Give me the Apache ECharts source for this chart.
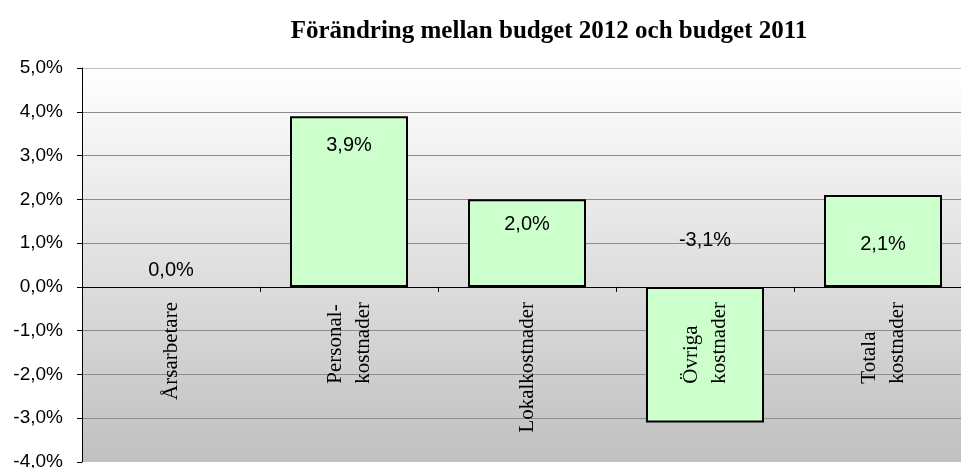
<!DOCTYPE html>
<html>
<head>
<meta charset="utf-8">
<script src="https://cdn.jsdelivr.net/npm/echarts@6/dist/echarts.min.js"></script>
<style>
  html, body { margin: 0; padding: 0; background: #fff; }
  #chart { width: 961px; height: 468px; }
</style>
</head>
<body>
<div id="chart"></div>
<script>
const categories = ["Årsarbetare", "Personal-\nkostnader", "Lokalkostnader", "Övriga\nkostnader", "Totala\nkostnader"];
const changes = [0.0, 3.9, 2.0, -3.1, 2.1];
// placering av dataetiketter (Excel-etiketterna är manuellt flyttade)
const labelPos = ["top", "insideTop", "insideTop", "top", "insideTop"];
const labelDist = [6, 19, 15, 36, 40];

const fmt = (v) => v.toFixed(1).replace(".", ",") + "%";

const chart = echarts.init(document.getElementById("chart"));

const option = {
  animation: false,
  title: {
    text: "Förändring mellan budget 2012 och budget 2011",
    left: 544,
    textAlign: "center",
    top: 14,
    textStyle: {
      fontFamily: "Liberation Serif",
      fontWeight: "bold",
      fontSize: 25,
      color: "#000",
    },
  },
  grid: {
    left: 82,
    right: -11,
    top: 68,
    bottom: 6,
    containLabel: false,
    outerBoundsMode: "none",
    show: true,
    borderWidth: 0,
    backgroundColor: new echarts.graphic.LinearGradient(0, 0, 0, 1, [
      { offset: 0, color: "#ffffff" },
      { offset: 1, color: "#c0c0c0" },
    ]),
  },
  xAxis: {
    type: "category",
    data: categories,
    z: 10,
    axisLine: { onZero: true, lineStyle: { color: "#000", width: 1 } },
    axisTick: { show: true, length: 5, lineStyle: { color: "#000" } },
    axisLabel: {
      rotate: 90,
      // etiketterna ritas från gridens underkant, flytta upp till nollinjen
      margin: -160,
      interval: 0,
      formatter: (v) => v.split("\n").map((s) => "{a|" + s + "}").join("\n"),
      rich: {
        a: {
          align: "left",
          fontFamily: "Liberation Serif",
          fontSize: 21,
          lineHeight: 28,
          color: "#000",
        },
      },
    },
  },
  yAxis: {
    type: "value",
    min: -4,
    max: 5,
    interval: 1,
    axisLine: { show: true, lineStyle: { color: "#000", width: 1 } },
    axisTick: { show: true, length: 5, lineStyle: { color: "#000" } },
    axisLabel: {
      margin: 19,
      formatter: fmt,
      fontFamily: "Liberation Sans",
      fontSize: 19,
      color: "#000",
    },
    splitLine: {
      show: true,
      lineStyle: {
        color: ["rgba(0,0,0,0)", "#8c8c8c", "#8c8c8c", "#8c8c8c", "#8c8c8c",
                "#8c8c8c", "#8c8c8c", "#8c8c8c", "#8c8c8c", "#c0c0c0"],
        width: 1,
      },
    },
  },
  series: [
    {
      type: "bar",
      barWidth: 118,
      itemStyle: {
        color: "#ccffcc",
        borderColor: "#000",
        borderWidth: 2,
      },
      label: {
        show: true,
        fontFamily: "Liberation Sans",
        fontSize: 20,
        color: "#000",
        formatter: (p) => fmt(p.value),
      },
      data: changes.map((v, i) => ({
        value: v,
        itemStyle: v === 0 ? { borderWidth: 0 } : undefined,
        label: { position: labelPos[i], distance: labelDist[i] },
      })),
    },
  ],
};

chart.setOption(option);
window.addEventListener("resize", () => chart.resize());
</script>
</body>
</html>
